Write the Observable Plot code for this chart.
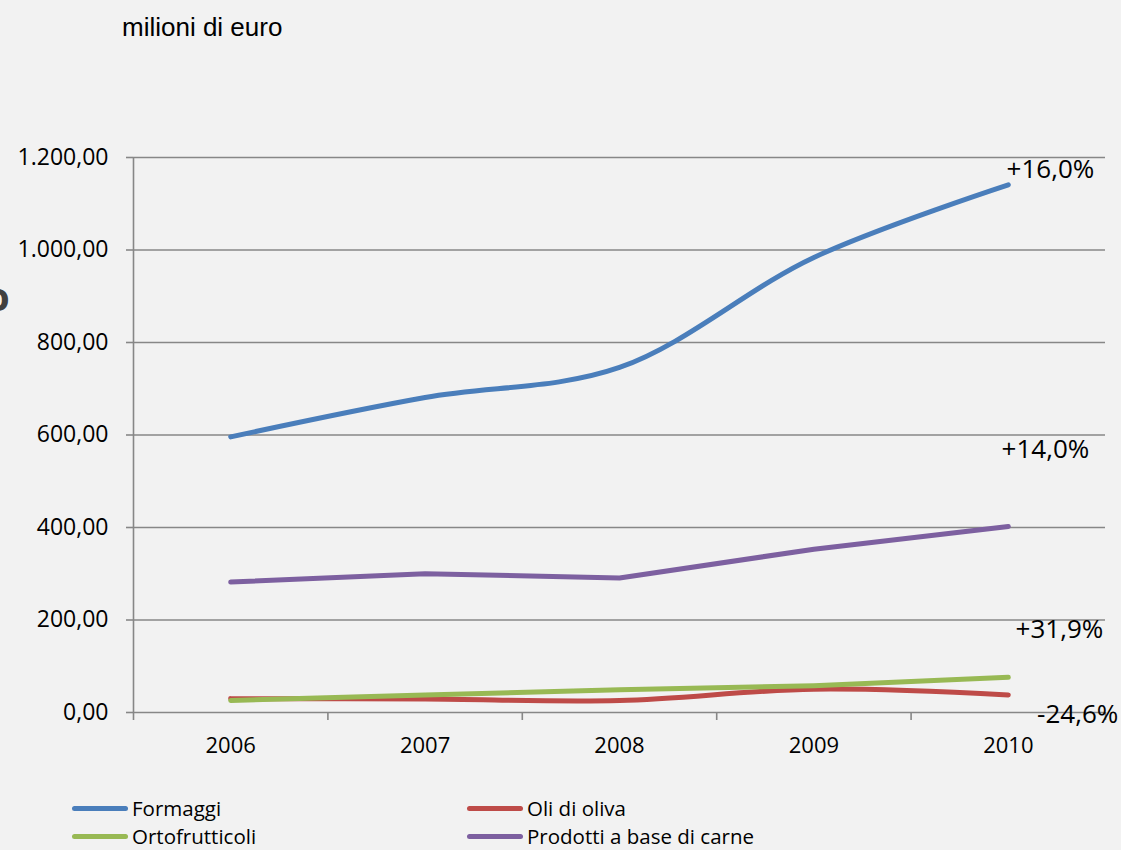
<!DOCTYPE html>
<html><head><meta charset="utf-8">
<script src="https://cdn.jsdelivr.net/npm/d3@7"></script>
<script src="https://cdn.jsdelivr.net/npm/@observablehq/plot@0.6"></script>
<style>
html,body{margin:0;padding:0;background:#f2f2f2;}
body{width:1121px;height:850px;overflow:hidden;position:relative;font-family:"Open Sans",sans-serif;color:#000;}
#title{position:absolute;left:122px;top:12px;font-family:"Liberation Sans",Arial,sans-serif;font-size:26px;line-height:30px;}
#cut{position:absolute;left:-15px;top:276px;font-family:"Open Sans",sans-serif;font-weight:bold;font-size:40px;line-height:40px;color:#404040;}
#chart{position:absolute;left:0;top:60px;}
#legend{position:absolute;left:0;top:796px;width:1121px;font-size:20.5px;line-height:24px;}
.item{position:absolute;display:flex;align-items:center;white-space:nowrap;height:24px;}
.sw{width:56px;height:5px;border-radius:3px;margin-right:4px;}
</style></head>
<body>
<div id="title">milioni di euro</div>
<div id="cut">o</div>
<div id="chart"></div>
<div id="legend"></div>
<script>
const years = [2006, 2007, 2008, 2009, 2010];
const seriesNames = ["Formaggi", "Oli di oliva", "Ortofrutticoli", "Prodotti a base di carne"];
const formaggi = [596, 681, 746, 984, 1141];
const oliDiOliva = [30, 29, 26, 50.5, 38];
const ortofrutticoli = [26, 38, 49, 58, 76];
const prodottiCarne = [282, 300, 291, 353, 402];
const changeLabels = ["+16,0%", "-24,6%", "+31,9%", "+14,0%"];
const yTicks = [0, 200, 400, 600, 800, 1000, 1200];
const colors = ["#4a7ebb", "#be4b48", "#98b954", "#7d60a0"];

const values = [formaggi, oliDiOliva, ortofrutticoli, prodottiCarne];
// smoothing as in the source chart: some series smoothed, some straight
const curves = ["catmull-rom", "catmull-rom", "linear", "linear"];

const boundaries = [...years.map(y => y - 0.5), years[years.length - 1] + 0.5];
const it = d3.formatLocale({decimal: ",", thousands: ".", grouping: [3], currency: ["", "€"]});
const fmt = it.format(",.2f");

const lineMarks = seriesNames.map((s, i) => Plot.line(years.map((y, j) => ({series: s, year: y, value: values[i][j]})), {
  x: "year", y: "value", stroke: "series", strokeWidth: 5, curve: curves[i], strokeLinecap: "round", strokeLinejoin: "round"
}));

// label offsets (pixels) relative to the last point of each series
const labelOffsets = {
  "Formaggi": [86, -7],
  "Oli di oliva": [110, 28],
  "Ortofrutticoli": [95, -39],
  "Prodotti a base di carne": [81, -69]
};
const lastYear = years[years.length - 1];
const labelMarks = seriesNames.map((s, i) => Plot.text([{year: lastYear, value: values[i][values[i].length - 1], label: changeLabels[i]}], {
  x: "year", y: "value", text: "label", textAnchor: "end", lineAnchor: "bottom",
  dx: labelOffsets[s][0], dy: labelOffsets[s][1], fontSize: 26, fill: "#000"
}));

const gridColor = "#878787";
const chart = Plot.plot({
  width: 1121, height: 700,
  marginLeft: 133, marginRight: 16, marginTop: 97, marginBottom: 48,
  style: {background: "transparent", fontFamily: "'Open Sans', sans-serif", color: "#000", overflow: "visible"},
  x: {domain: [boundaries[0], boundaries[boundaries.length - 1]], label: null},
  y: {domain: [0, 1200], label: null},
  color: {domain: seriesNames, range: colors},
  marks: [
    Plot.ruleY(yTicks, {stroke: gridColor, strokeWidth: 1.6}),
    Plot.ruleX([boundaries[0]], {y1: 0, y2: 1200, stroke: gridColor, strokeWidth: 1.6}),
    Plot.axisY({ticks: yTicks, tickSize: 7, tickPadding: 18, tickFormat: fmt, stroke: gridColor, strokeWidth: 1.6, fontSize: 23, fill: "#000", label: null}),
    Plot.axisX({ticks: boundaries, tickSize: 8, tickFormat: () => "", stroke: gridColor, strokeWidth: 1.6, label: null}),
    Plot.axisX({ticks: years, tickSize: 0, tickPadding: 25, tickFormat: d => String(d), fontSize: 22, fill: "#000", label: null}),
    ...lineMarks,
    ...labelMarks
  ]
});
document.getElementById("chart").appendChild(chart);

const legend = document.getElementById("legend");
const legendPos = [[72, 0], [467, 0], [72, 28], [467, 28]];
seriesNames.forEach((s, i) => {
  const d = document.createElement("div");
  d.className = "item";
  d.style.left = legendPos[i][0] + "px";
  d.style.top = legendPos[i][1] + "px";
  d.innerHTML = `<div class="sw" style="background:${colors[i]}"></div><span>${s}</span>`;
  legend.appendChild(d);
});
</script>
</body></html>
